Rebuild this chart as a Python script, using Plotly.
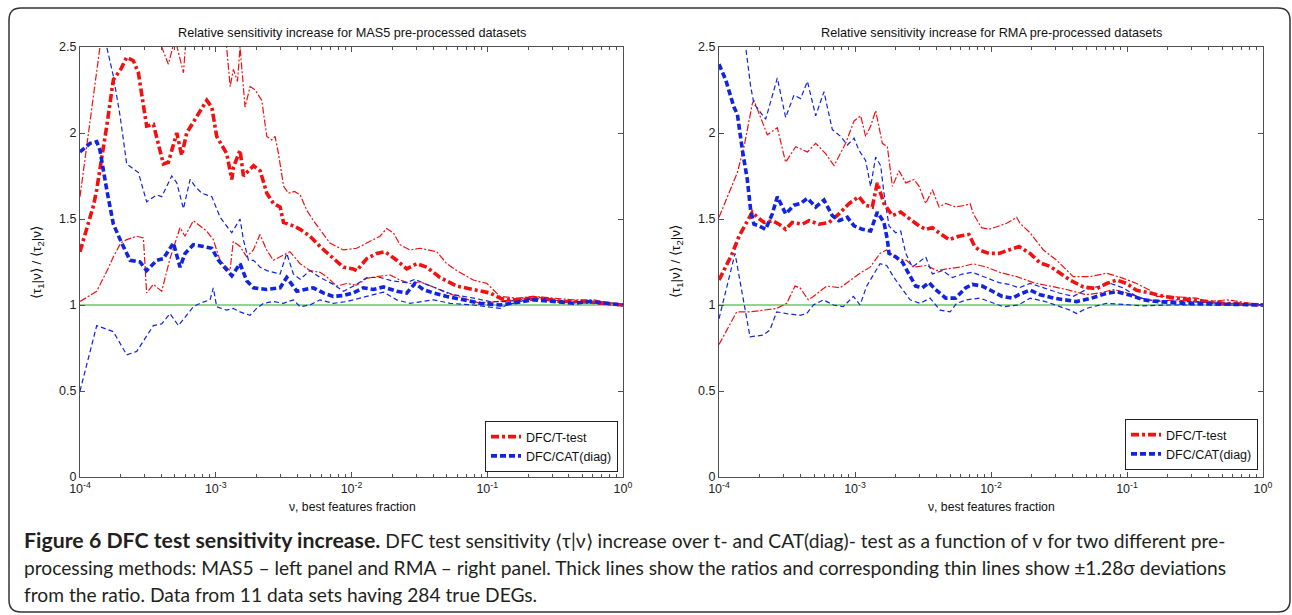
import plotly.graph_objects as go

# ---------------- data: pairs of (log10 nu, ratio) ----------------
# MAS5 panel
mas5_t_ratio = [(-4.000, 1.31), (-3.95, 1.45), (-3.90, 1.58), (-3.877, 1.67), (-3.84, 1.85), (-3.803, 2.04), (-3.754, 2.31),
                (-3.70, 2.37), (-3.656, 2.44), (-3.607, 2.42), (-3.570, 2.35), (-3.509, 2.04), (-3.459, 2.05), (-3.386, 1.82),
                (-3.349, 1.83), (-3.287, 2.00), (-3.251, 1.87), (-3.214, 2.00), (-3.152, 2.08), (-3.066, 2.19), (-3.029, 2.15),
                (-2.993, 1.98), (-2.919, 1.88), (-2.882, 1.73), (-2.870, 1.80), (-2.821, 1.90), (-2.796, 1.75), (-2.722, 1.81),
                (-2.673, 1.78), (-2.624, 1.65), (-2.575, 1.59), (-2.526, 1.57), (-2.501, 1.48), (-2.428, 1.46), (-2.378, 1.44),
                (-2.306, 1.40), (-2.232, 1.34), (-2.134, 1.27), (-2.060, 1.22), (-1.987, 1.21), (-1.961, 1.20), (-1.888, 1.27),
                (-1.814, 1.30), (-1.753, 1.31), (-1.667, 1.26), (-1.593, 1.21), (-1.520, 1.24), (-1.446, 1.22), (-1.348, 1.16),
                (-1.225, 1.11), (-1.103, 1.09), (-0.980, 1.07), (-0.906, 1.04), (-0.857, 1.03), (-0.709, 1.03), (-0.611, 1.04),
                (-0.464, 1.02), (-0.292, 1.02), (-0.150, 1.01), (0.0, 1.00)]
mas5_t_upper = [(-4.000, 1.63), (-3.853, 2.50), (-3.75, 2.90), (-3.60, 3.00), (-3.45, 2.75), (-3.398, 2.50), (-3.349, 2.40),
                (-3.30, 2.55), (-3.238, 2.35), (-3.214, 2.60), (-3.10, 2.85), (-2.95, 2.80), (-2.920, 2.50), (-2.894, 2.27),
                (-2.870, 2.37), (-2.840, 2.30), (-2.821, 2.50), (-2.784, 2.15), (-2.747, 2.27), (-2.710, 2.25), (-2.661, 2.19),
                (-2.624, 1.98), (-2.587, 1.96), (-2.563, 1.98), (-2.538, 1.88), (-2.500, 1.69), (-2.464, 1.65), (-2.420, 1.66),
                (-2.378, 1.64), (-2.329, 1.55), (-2.280, 1.49), (-2.232, 1.44), (-2.159, 1.36), (-2.060, 1.32), (-1.962, 1.33),
                (-1.888, 1.36), (-1.790, 1.40), (-1.741, 1.445), (-1.692, 1.42), (-1.642, 1.35), (-1.569, 1.32), (-1.495, 1.33),
                (-1.372, 1.31), (-1.298, 1.24), (-1.225, 1.20), (-1.103, 1.145), (-1.004, 1.126), (-0.906, 1.05), (-0.783, 1.04),
                (-0.660, 1.05), (-0.513, 1.04), (-0.366, 1.03), (-0.218, 1.03), (0.0, 1.00)]
mas5_t_lower = [(-4.000, 1.02), (-3.877, 1.08), (-3.80, 1.20), (-3.754, 1.28), (-3.70, 1.36), (-3.656, 1.38), (-3.582, 1.40),
                (-3.533, 1.39), (-3.509, 1.07), (-3.460, 1.12), (-3.398, 1.08), (-3.337, 1.27), (-3.263, 1.45), (-3.227, 1.40),
                (-3.165, 1.49), (-3.116, 1.46), (-3.067, 1.43), (-3.018, 1.38), (-2.969, 1.26), (-2.895, 1.20), (-2.871, 1.37),
                (-2.821, 1.34), (-2.772, 1.28), (-2.723, 1.32), (-2.674, 1.41), (-2.625, 1.32), (-2.576, 1.26), (-2.502, 1.29),
                (-2.453, 1.31), (-2.379, 1.24), (-2.306, 1.20), (-2.232, 1.19), (-2.183, 1.165), (-2.109, 1.11), (-2.035, 1.125),
                (-1.962, 1.115), (-1.888, 1.155), (-1.814, 1.165), (-1.716, 1.175), (-1.642, 1.145), (-1.569, 1.125), (-1.495, 1.135),
                (-1.397, 1.105), (-1.298, 1.07), (-1.176, 1.04), (-1.053, 1.01), (-0.930, 1.02), (-0.808, 1.03), (-0.660, 1.05),
                (-0.513, 1.03), (-0.366, 1.01), (-0.169, 1.02), (0.0, 1.00)]
mas5_c_ratio = [(-4.000, 1.89), (-3.926, 1.94), (-3.877, 1.95), (-3.853, 1.90), (-3.803, 1.67), (-3.754, 1.47), (-3.693, 1.36),
                (-3.631, 1.26), (-3.558, 1.25), (-3.509, 1.20), (-3.435, 1.26), (-3.386, 1.27), (-3.312, 1.36), (-3.263, 1.22),
                (-3.226, 1.30), (-3.165, 1.35), (-3.091, 1.34), (-3.029, 1.33), (-2.980, 1.26), (-2.919, 1.20), (-2.882, 1.17),
                (-2.821, 1.24), (-2.771, 1.14), (-2.722, 1.10), (-2.624, 1.09), (-2.526, 1.10), (-2.477, 1.16), (-2.403, 1.08),
                (-2.329, 1.09), (-2.281, 1.10), (-2.208, 1.07), (-2.134, 1.05), (-2.060, 1.055), (-1.987, 1.07), (-1.913, 1.10),
                (-1.839, 1.09), (-1.765, 1.105), (-1.667, 1.08), (-1.593, 1.07), (-1.532, 1.125), (-1.471, 1.09), (-1.397, 1.07),
                (-1.298, 1.05), (-1.176, 1.03), (-1.053, 1.01), (-0.906, 1.00), (-0.808, 1.01), (-0.660, 1.03), (-0.513, 1.02),
                (-0.366, 1.01), (-0.243, 1.02), (0.0, 1.00)]
mas5_c_upper = [(-4.000, 3.60), (-3.900, 3.00), (-3.803, 2.50), (-3.754, 2.33), (-3.705, 2.10), (-3.656, 1.82), (-3.570, 1.77),
                (-3.509, 1.60), (-3.435, 1.64), (-3.398, 1.63), (-3.324, 1.75), (-3.287, 1.71), (-3.238, 1.56), (-3.189, 1.73),
                (-3.152, 1.69), (-3.103, 1.65), (-3.029, 1.63), (-2.968, 1.51), (-2.882, 1.42), (-2.821, 1.50), (-2.796, 1.38),
                (-2.759, 1.26), (-2.722, 1.26), (-2.673, 1.22), (-2.624, 1.20), (-2.526, 1.18), (-2.477, 1.30), (-2.428, 1.18),
                (-2.378, 1.15), (-2.306, 1.20), (-2.232, 1.16), (-2.133, 1.12), (-2.059, 1.08), (-1.961, 1.12), (-1.887, 1.16),
                (-1.789, 1.16), (-1.700, 1.14), (-1.593, 1.13), (-1.532, 1.15), (-1.450, 1.12), (-1.350, 1.09), (-1.250, 1.06),
                (-1.100, 1.04), (-0.980, 1.02), (-0.850, 1.02), (-0.700, 1.04), (-0.550, 1.03), (-0.400, 1.02), (-0.200, 1.02),
                (0.0, 1.00)]
mas5_c_lower = [(-4.000, 0.50), (-3.877, 0.88), (-3.754, 0.845), (-3.656, 0.71), (-3.582, 0.73), (-3.460, 0.88), (-3.398, 0.89),
                (-3.337, 0.95), (-3.275, 0.88), (-3.165, 0.99), (-3.116, 1.01), (-3.042, 1.03), (-3.018, 1.10), (-2.993, 0.99),
                (-2.920, 0.97), (-2.871, 0.98), (-2.821, 0.96), (-2.748, 0.94), (-2.699, 0.98), (-2.649, 1.01), (-2.576, 1.02),
                (-2.502, 1.01), (-2.428, 1.03), (-2.379, 0.99), (-2.306, 1.00), (-2.232, 1.03), (-2.134, 1.01), (-2.035, 1.02),
                (-1.888, 1.05), (-1.765, 1.075), (-1.667, 1.03), (-1.569, 1.01), (-1.397, 1.03), (-1.274, 1.01), (-1.103, 1.00),
                (-1.004, 0.99), (-0.906, 0.98), (-0.857, 1.00), (-0.709, 1.03), (-0.562, 1.04), (-0.415, 1.02), (-0.218, 1.01),
                (0.0, 1.00)]

# RMA panel
rma_t_ratio = [(-4.000, 1.145), (-3.951, 1.22), (-3.902, 1.30), (-3.853, 1.40), (-3.804, 1.47), (-3.755, 1.54), (-3.718, 1.51),
               (-3.669, 1.48), (-3.608, 1.49), (-3.559, 1.47), (-3.510, 1.44), (-3.461, 1.48), (-3.387, 1.47), (-3.338, 1.49),
               (-3.265, 1.47), (-3.191, 1.48), (-3.118, 1.53), (-3.044, 1.59), (-2.971, 1.63), (-2.922, 1.58), (-2.873, 1.57),
               (-2.836, 1.71), (-2.787, 1.59), (-2.725, 1.52), (-2.664, 1.54), (-2.591, 1.50), (-2.529, 1.46), (-2.480, 1.44),
               (-2.431, 1.45), (-2.382, 1.42), (-2.309, 1.38), (-2.235, 1.40), (-2.162, 1.41), (-2.120, 1.34), (-2.088, 1.32),
               (-2.015, 1.30), (-1.941, 1.30), (-1.868, 1.32), (-1.794, 1.34), (-1.713, 1.30), (-1.640, 1.245), (-1.566, 1.225),
               (-1.493, 1.185), (-1.419, 1.145), (-1.321, 1.105), (-1.223, 1.095), (-1.149, 1.125), (-1.076, 1.145), (-1.002, 1.125),
               (-0.929, 1.085), (-0.831, 1.07), (-0.733, 1.05), (-0.635, 1.04), (-0.537, 1.03), (-0.414, 1.02), (-0.292, 1.01),
               (0.0, 1.00)]
rma_t_upper = [(-4.000, 1.51), (-3.926, 1.65), (-3.865, 1.77), (-3.816, 1.92), (-3.755, 2.17), (-3.743, 2.19), (-3.694, 2.09),
               (-3.645, 1.99), (-3.571, 2.03), (-3.510, 1.83), (-3.436, 1.92), (-3.350, 1.89), (-3.289, 1.94), (-3.216, 1.88),
               (-3.154, 1.81), (-3.069, 1.94), (-3.007, 2.07), (-2.958, 2.10), (-2.922, 1.98), (-2.885, 2.04), (-2.848, 2.13),
               (-2.799, 1.94), (-2.762, 1.92), (-2.725, 1.69), (-2.676, 1.78), (-2.627, 1.71), (-2.566, 1.73), (-2.529, 1.69),
               (-2.480, 1.59), (-2.431, 1.67), (-2.382, 1.57), (-2.333, 1.59), (-2.260, 1.57), (-2.186, 1.58), (-2.154, 1.59),
               (-2.130, 1.53), (-2.070, 1.45), (-2.015, 1.44), (-1.958, 1.455), (-1.885, 1.475), (-1.811, 1.51), (-1.787, 1.475),
               (-1.713, 1.42), (-1.615, 1.32), (-1.517, 1.26), (-1.395, 1.165), (-1.272, 1.165), (-1.149, 1.185), (-1.027, 1.155),
               (-0.929, 1.125), (-0.831, 1.085), (-0.782, 1.05), (-0.684, 1.05), (-0.488, 1.04), (-0.390, 1.02), (-0.267, 1.03),
               (0.0, 1.00)]
rma_t_lower = [(-4.000, 0.77), (-3.870, 0.96), (-3.772, 0.96), (-3.674, 0.97), (-3.576, 0.98), (-3.502, 1.01), (-3.441, 1.11),
               (-3.404, 1.10), (-3.343, 1.03), (-3.306, 1.05), (-3.208, 1.11), (-3.110, 1.10), (-3.036, 1.145), (-2.963, 1.185),
               (-2.889, 1.22), (-2.816, 1.30), (-2.767, 1.32), (-2.693, 1.27), (-2.620, 1.26), (-2.571, 1.22), (-2.473, 1.23),
               (-2.399, 1.20), (-2.326, 1.21), (-2.228, 1.22), (-2.130, 1.24), (-2.032, 1.22), (-1.934, 1.19), (-1.860, 1.175),
               (-1.811, 1.165), (-1.689, 1.13), (-1.566, 1.11), (-1.444, 1.09), (-1.300, 1.06), (-1.200, 1.07), (-1.100, 1.09),
               (-1.000, 1.07), (-0.900, 1.04), (-0.780, 1.02), (-0.650, 1.03), (-0.500, 1.02), (-0.350, 1.01), (-0.200, 1.01),
               (0.0, 1.00)]
rma_c_ratio = [(-4.000, 2.40), (-3.951, 2.31), (-3.890, 2.15), (-3.865, 2.11), (-3.828, 1.90), (-3.792, 1.73), (-3.767, 1.55),
               (-3.743, 1.47), (-3.706, 1.46), (-3.657, 1.44), (-3.608, 1.53), (-3.571, 1.63), (-3.510, 1.53), (-3.449, 1.58),
               (-3.400, 1.59), (-3.350, 1.62), (-3.289, 1.57), (-3.228, 1.61), (-3.167, 1.52), (-3.118, 1.49), (-3.056, 1.51),
               (-3.007, 1.46), (-2.946, 1.44), (-2.885, 1.43), (-2.836, 1.54), (-2.787, 1.48), (-2.762, 1.38), (-2.750, 1.30),
               (-2.701, 1.28), (-2.652, 1.25), (-2.603, 1.18), (-2.554, 1.11), (-2.505, 1.10), (-2.456, 1.13), (-2.407, 1.09),
               (-2.333, 1.04), (-2.260, 1.04), (-2.186, 1.10), (-2.137, 1.12), (-2.064, 1.11), (-1.990, 1.08), (-1.917, 1.05),
               (-1.843, 1.04), (-1.794, 1.06), (-1.713, 1.087), (-1.640, 1.06), (-1.540, 1.04), (-1.370, 1.02), (-1.260, 1.04),
               (-1.149, 1.068), (-1.076, 1.077), (-0.980, 1.058), (-0.880, 1.03), (-0.780, 1.02), (-0.600, 1.01), (-0.400, 1.005),
               (-0.200, 1.005), (0.0, 1.00)]
rma_c_upper = [(-4.000, 3.40), (-3.900, 2.90), (-3.804, 2.50), (-3.767, 2.27), (-3.743, 2.17), (-3.657, 2.08), (-3.571, 2.32),
               (-3.510, 2.09), (-3.449, 2.22), (-3.400, 2.20), (-3.350, 2.30), (-3.289, 2.10), (-3.228, 2.24), (-3.167, 2.02),
               (-3.105, 1.98), (-3.056, 1.93), (-3.007, 1.97), (-2.971, 1.90), (-2.922, 1.84), (-2.885, 1.69), (-2.848, 1.86),
               (-2.811, 1.81), (-2.787, 1.65), (-2.750, 1.46), (-2.701, 1.42), (-2.664, 1.43), (-2.627, 1.30), (-2.578, 1.22),
               (-2.529, 1.25), (-2.480, 1.28), (-2.431, 1.18), (-2.358, 1.20), (-2.284, 1.16), (-2.211, 1.18), (-2.137, 1.19),
               (-2.039, 1.16), (-1.941, 1.13), (-1.868, 1.12), (-1.794, 1.10), (-1.713, 1.126), (-1.620, 1.10), (-1.500, 1.07),
               (-1.395, 1.05), (-1.300, 1.09), (-1.200, 1.11), (-1.125, 1.126), (-1.030, 1.10), (-0.929, 1.05), (-0.850, 1.03),
               (-0.700, 1.025), (-0.500, 1.02), (-0.300, 1.01), (0.0, 1.00)]
rma_c_lower = [(-4.000, 0.92), (-3.882, 1.30), (-3.772, 0.815), (-3.674, 0.825), (-3.625, 0.855), (-3.576, 0.96), (-3.502, 0.95),
               (-3.404, 0.94), (-3.355, 0.95), (-3.306, 1.00), (-3.233, 1.03), (-3.159, 1.00), (-3.086, 0.99), (-3.036, 1.03),
               (-3.012, 1.05), (-2.963, 1.00), (-2.914, 1.11), (-2.865, 1.175), (-2.816, 1.24), (-2.767, 1.23), (-2.718, 1.165),
               (-2.669, 1.11), (-2.595, 1.03), (-2.522, 1.01), (-2.448, 1.04), (-2.375, 0.97), (-2.301, 0.96), (-2.252, 1.01),
               (-2.179, 1.03), (-2.081, 1.04), (-1.983, 1.01), (-1.909, 0.99), (-1.800, 1.00), (-1.713, 1.04), (-1.600, 1.02),
               (-1.500, 0.99), (-1.419, 0.97), (-1.370, 0.95), (-1.300, 0.98), (-1.150, 1.01), (-1.000, 1.00), (-0.880, 0.995),
               (-0.700, 1.00), (-0.500, 1.00), (0.0, 1.00)]

x_range_nu = [1e-4, 1.0]
reference_level = 1.0
x_tick_vals = [1e-4, 1e-3, 1e-2, 1e-1, 1.0]
x_tick_text = ["10<sup>-4</sup>", "10<sup>-3</sup>", "10<sup>-2</sup>", "10<sup>-1</sup>", "10<sup>0</sup>"]
y_tick_vals = [0, 0.5, 1, 1.5, 2, 2.5]
y_tick_text = ["0", "0.5", "1", "1.5", "2", "2.5"]
legend_names = ["DFC/T-test", "DFC/CAT(diag)"]
panel_titles = ["Relative sensitivity increase for MAS5 pre-processed datasets",
                "Relative sensitivity increase for RMA pre-processed datasets"]
x_title = "ν, best features fraction"
y_title = "⟨τ<sub>1</sub>|ν⟩ / ⟨τ<sub>2</sub>|ν⟩"
caption_lines = [
    "<span style=\"font-size:21.3px\"><b>Figure 6 DFC test sensitivity increase.</b></span> DFC test sensitivity ⟨τ|ν⟩ increase over t- and CAT(diag)- test as a function of ν for two different pre-",
    "processing methods: MAS5 – left panel and RMA – right panel. Thick lines show the ratios and corresponding thin lines show ±1.28σ deviations",
    "from the ratio. Data from 11 data sets having 284 true DEGs.",
]

# ---------------- layout geometry (pixels) ----------------
W, H = 1292, 615
L, R, T, B = 80, 1263, 47, 477


def px(xp):
    return (xp - L) / (R - L)


def py(yp):
    return (B - yp) / (B - T)


def split(pairs):
    return [10 ** p[0] for p in pairs], [p[1] for p in pairs]


RED = "#f21010"
BLUE = "#1224e0"
GREEN = "#2aa82a"
AX = "#505050"

fig = go.Figure()

panels = [
    ("x", "y", "legend", mas5_t_ratio, mas5_t_upper, mas5_t_lower, mas5_c_ratio, mas5_c_upper, mas5_c_lower),
    ("x2", "y2", "legend2", rma_t_ratio, rma_t_upper, rma_t_lower, rma_c_ratio, rma_c_upper, rma_c_lower),
]

for xa, ya, leg, t_r, t_u, t_l, c_r, c_u, c_l in panels:
    fig.add_trace(go.Scatter(x=x_range_nu, y=[reference_level, reference_level], mode="lines",
                             line=dict(color=GREEN, width=1.2), xaxis=xa, yaxis=ya, showlegend=False,
                             hoverinfo="skip"))
    for s in (t_u, t_l):
        xs, ys = split(s)
        fig.add_trace(go.Scatter(x=xs, y=ys, mode="lines", xaxis=xa, yaxis=ya, showlegend=False,
                                 line=dict(color=RED, width=1.2, dash="7px,2px,2px,2px")))
    for s in (c_u, c_l):
        xs, ys = split(s)
        fig.add_trace(go.Scatter(x=xs, y=ys, mode="lines", xaxis=xa, yaxis=ya, showlegend=False,
                                 line=dict(color=BLUE, width=1.2, dash="5px,3px")))
    xs, ys = split(t_r)
    fig.add_trace(go.Scatter(x=xs, y=ys, mode="lines", xaxis=xa, yaxis=ya, name=legend_names[0], legend=leg,
                             line=dict(color=RED, width=3.6, dash="8px,3px,3px,3px")))
    xs, ys = split(c_r)
    fig.add_trace(go.Scatter(x=xs, y=ys, mode="lines", xaxis=xa, yaxis=ya, name=legend_names[1], legend=leg,
                             line=dict(color=BLUE, width=3.6, dash="6px,3px")))

minor_vals = [m * 10 ** e for e in range(-4, 0) for m in range(2, 10)]

xaxis_common = dict(type="log", range=[-4, 0], tickmode="array", tickvals=x_tick_vals, ticktext=x_tick_text,
                    ticks="inside", ticklen=5, tickcolor=AX, showline=True, linecolor=AX, linewidth=1,
                    mirror="ticks", showgrid=False, zeroline=False,
                    tickfont=dict(family="Liberation Sans, Arial", size=12.5, color="#222"),
                    minor=dict(tickmode="array", tickvals=minor_vals, ticks="inside", ticklen=3, tickcolor=AX,
                               showgrid=False))
yaxis_common = dict(range=[0, 2.5], tickmode="array", tickvals=y_tick_vals, ticktext=y_tick_text,
                    ticks="inside", ticklen=5, tickcolor=AX, showline=True, linecolor=AX, linewidth=1,
                    mirror="ticks", showgrid=False, zeroline=False,
                    tickfont=dict(family="Liberation Sans, Arial", size=12.5, color="#222"))

fig.update_layout(
    width=W, height=H,
    margin=dict(l=L, r=W - R, t=T, b=H - B, pad=0),
    paper_bgcolor="white", plot_bgcolor="white",
    xaxis=dict(domain=[0, px(623)], anchor="y", **xaxis_common),
    yaxis=dict(domain=[0, 1], anchor="x", **yaxis_common),
    xaxis2=dict(domain=[px(719), 1], anchor="y2", **xaxis_common),
    yaxis2=dict(domain=[0, 1], anchor="x2", **yaxis_common),
    legend=dict(x=px(618), y=py(472), xanchor="right", yanchor="bottom", bgcolor="white",
                bordercolor="#222", borderwidth=1, tracegroupgap=0,
                font=dict(family="Liberation Sans, Arial", size=12.5, color="#111")),
    legend2=dict(x=px(1258), y=py(470), xanchor="right", yanchor="bottom", bgcolor="white",
                 bordercolor="#222", borderwidth=1, tracegroupgap=0,
                 font=dict(family="Liberation Sans, Arial", size=12.5, color="#111")),
)

ann = []
small = dict(family="Liberation Sans, Arial", color="#111")
for title, cx in zip(panel_titles, [352, 991]):
    ann.append(dict(text=title, x=px(cx), y=py(33), xref="paper", yref="paper", showarrow=False,
                    xanchor="center", yanchor="middle", font=dict(size=12.7, **small)))
for cx in [352, 991]:
    ann.append(dict(text=x_title, x=px(cx), y=py(507), xref="paper", yref="paper", showarrow=False,
                    xanchor="center", yanchor="middle", font=dict(size=12.2, **small)))
for cx in [37, 676]:
    ann.append(dict(text=y_title, x=px(cx), y=py(262), xref="paper", yref="paper", showarrow=False,
                    xanchor="center", yanchor="middle", textangle=-90, font=dict(size=13.5, **small)))
for line, cy in zip(caption_lines, [540, 567, 594]):
    ann.append(dict(text=line, x=px(22), y=py(cy), xref="paper", yref="paper", showarrow=False,
                    xanchor="left", yanchor="middle", align="left",
                    font=dict(family="Lato, Noto Sans, sans-serif", size=19.2, color="#231f20")))
fig.update_layout(annotations=ann)

# outer rounded frame
x0, y0, x1, y1, r = 9, 8, 1290, 612, 12


def P(xp, yp):
    return f"{px(xp):.5f},{py(yp):.5f}"


path = (f"M {P(x0 + r, y0)} L {P(x1 - r, y0)} Q {P(x1, y0)} {P(x1, y0 + r)} "
        f"L {P(x1, y1 - r)} Q {P(x1, y1)} {P(x1 - r, y1)} L {P(x0 + r, y1)} Q {P(x0, y1)} {P(x0, y1 - r)} "
        f"L {P(x0, y0 + r)} Q {P(x0, y0)} {P(x0 + r, y0)} Z")
fig.add_shape(type="path", path=path, xref="paper", yref="paper", line=dict(color="#333", width=1.5))

fig.write_html("out.html")
